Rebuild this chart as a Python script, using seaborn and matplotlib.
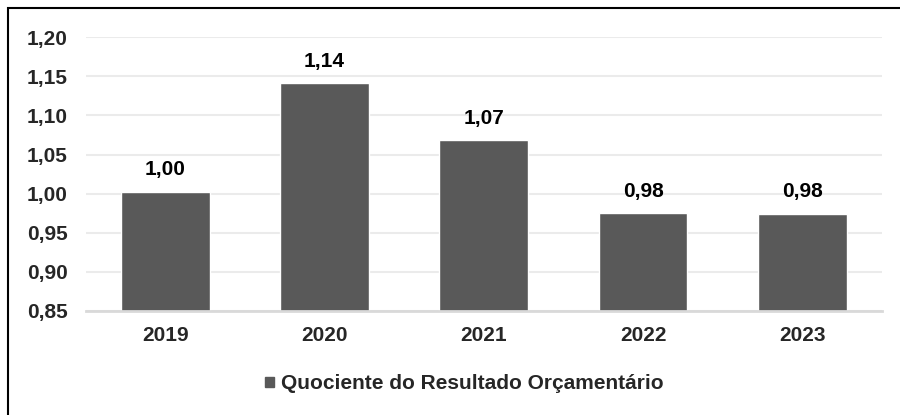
import pandas as pd
import matplotlib.pyplot as plt
import matplotlib.patches as mpatches
from matplotlib.ticker import FuncFormatter, MultipleLocator
import seaborn as sns

# data
anos = ["2019", "2020", "2021", "2022", "2023"]
quociente = [1.002, 1.1415, 1.068, 0.975, 0.974]
rotulos = ["1,00", "1,14", "1,07", "0,98", "0,98"]
serie = "Quociente do Resultado Orçamentário"

BAR_COLOR = "#595959"


def fmt_br(v, pos=None):
    return f"{v:.2f}".replace(".", ",")


df = pd.DataFrame({"ano": anos, "valor": quociente, "serie": serie})

sns.set_style("white")
plt.rcParams["font.family"] = ["Liberation Sans", "DejaVu Sans"]
plt.rcParams["font.weight"] = "bold"

fig = plt.figure(figsize=(9, 4.15), dpi=100)
ax = fig.add_axes([0.0952, 0.2513, 0.8848, 0.6587])

sns.barplot(data=df, x="ano", y="valor", hue="serie", palette=[BAR_COLOR],
            width=0.557, saturation=1, ax=ax, legend=True, zorder=3)

ax.set_ylim(0.85, 1.20)
ax.set_xlim(-0.5, len(anos) - 0.5)
ax.yaxis.set_major_locator(MultipleLocator(0.05))
ax.yaxis.set_major_formatter(FuncFormatter(fmt_br))
ax.grid(axis="y", color="#EBEBEB", linewidth=1.5, zorder=0)
ax.set_axisbelow(True)

for side in ["top", "right", "left"]:
    ax.spines[side].set_visible(False)
ax.spines["bottom"].set_color("#D9D9D9")
ax.spines["bottom"].set_linewidth(2)
ax.spines["bottom"].set_zorder(4)

ax.tick_params(axis="y", length=0, pad=13, labelsize=15)
ax.tick_params(axis="x", length=0, pad=11, labelsize=15)
for lbl in ax.get_xticklabels() + ax.get_yticklabels():
    lbl.set_fontweight("bold")
ax.set_xlabel("")
ax.set_ylabel("")

for cont in ax.containers:
    ax.bar_label(cont, labels=rotulos, padding=9,
                 fontsize=15, fontweight="bold", color="#000000")

ax.legend_.remove()
handle = mpatches.Patch(color=BAR_COLOR, label=serie)
fig.legend(handles=[handle], loc="center", bbox_to_anchor=(0.516, 0.075),
           frameon=False, handlelength=0.4, handleheight=0.4,
           handletextpad=0.35, prop={"size": 15, "weight": "bold"})

# outer frame (only left and top edges fall inside the image)
frame = mpatches.Rectangle((8 / 900, -0.1), 1.2, (415 - 8) / 415 + 0.1,
                           transform=fig.transFigure, fill=False,
                           edgecolor="black", linewidth=1.5)
fig.patches.append(frame)

fig.savefig("out.png", dpi=100)
plt.close(fig)
